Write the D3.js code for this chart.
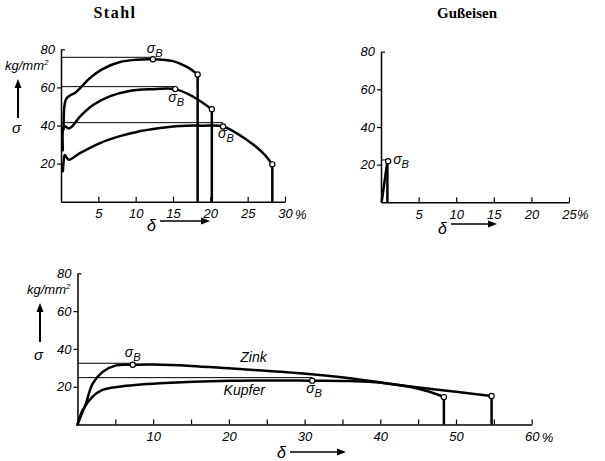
<!DOCTYPE html>
<html>
<head>
<meta charset="utf-8">
<script src="https://cdn.jsdelivr.net/npm/d3@7"></script>
<style>
  body { margin: 0; background: #fff; }
  text { font-family: "Liberation Sans", Arial, sans-serif; font-style: italic; fill: #000; }
  .title { font-family: "Liberation Serif", serif; font-style: normal; font-weight: bold; }
</style>
</head>
<body>
<svg width="605" height="461"></svg>
<script>
// --- Stahl (three steels), delta in %, sigma in kg/mm2
const stahlHard = [[0.35,38],[0.45,50],[0.7,54],[1.1,55.5],[1.9,57.2],[2.6,59.8],[3.9,65],[5.5,69.5],[7.9,73.3],[10,74.5],[12.3,74.8],[15,73.8],[16.8,70.9],[18.3,66.8]];
const stahlMid  = [[0.25,27],[0.35,39],[0.6,39.5],[1,38.4],[1.4,39.2],[2.6,44.9],[4.4,51],[6.6,55.4],[9,58],[12,59],[15.3,59.1],[17.7,55.1],[20.2,48.5]];
const stahlSoft = [[0.25,16],[0.35,21],[0.5,24.5],[0.7,23.5],[1.05,22],[2.6,25.6],[5.3,30.9],[7.9,34.4],[10,36.5],[13,38.5],[16,39.8],[19,39.9],[21.7,39.5],[24.9,32.4],[27.1,25.4],[28.3,19.6]];
const stahlBreak = [[12.3,74.8],[15.3,59.1],[21.7,39.5]];   // sigma_B points
const stahlLevels = [75.8, 60.4, 41.5];                     // thin horizontal lines

// --- Gusseisen
const guss = [[0.1,0.5],[0.85,21.8]];
const gussBreak = [0.95, 21.8];
const gussLevel = 22.5;

// --- Zink / Kupfer
const zink   = [[0,0],[0.4,4],[1.1,11],[2,21.6],[3.3,27.8],[5.1,31.3],[7.3,31.6],[10,31.7],[15,31],[20,29.7],[29.4,27.1],[36,24.5],[40.4,22],[44.8,19.7],[50,17.3],[54.7,15.1]];
const kupfer = [[0,0],[0.7,7.7],[2,14.7],[3.3,18.3],[5.5,20],[10.9,21.8],[20.1,23.2],[31,23.2],[36,23],[40,22.2],[44,19.8],[46.5,17.3],[48.4,14.5]];
const zinkBreak = [7.3, 31.6];
const kupferBreak = [31, 23.2];
const metalLevels = [32.4, 24.8];

const yTicks = [20, 40, 60, 80];

const svg = d3.select('svg');

function makePanel(xMax, xr, yr, xTicks, xLabels, pctDx) {
  const x = d3.scaleLinear().domain([0, xMax]).range(xr);
  const y = d3.scaleLinear().domain([0, 80]).range(yr);
  const g = svg.append('g');

  const ax = g.append('g')
    .attr('transform', `translate(0,${y(0)})`)
    .call(d3.axisBottom(x).tickValues(xTicks).tickSize(-5).tickSizeOuter(0).tickPadding(7)
      .tickFormat(d => xLabels.includes(d) ? d : ''));
  const ay = g.append('g')
    .attr('transform', `translate(${x(0)},0)`)
    .call(d3.axisLeft(y).tickValues(yTicks).tickSize(4).tickSizeOuter(0).tickPadding(2));
  ay.selectAll('.tick').filter(d => d === 80).select('line').attr('x2', 4);
  [ax, ay].forEach(a => {
    a.attr('font-family', null).attr('font-size', null);
    a.select('.domain').attr('stroke-width', 1.5);
    a.selectAll('line').attr('stroke-width', 1.2);
    a.selectAll('text').style('font-size', '13px');
  });
  g.append('text').attr('x', x(xMax) + pctDx).attr('y', y(0) + 17).style('font-size', '13px').text('%');
  return { x, y, g };
}

function curve(p, pts) {
  const line = d3.line().x(d => p.x(d[0])).y(d => p.y(d[1])).curve(d3.curveCatmullRom.alpha(0.5));
  p.g.append('path').attr('d', line(pts)).attr('fill', 'none').attr('stroke', '#000')
    .attr('stroke-width', 2.5).attr('stroke-linejoin', 'round').attr('stroke-linecap', 'round');
  const last = pts[pts.length - 1];
  p.g.append('line').attr('x1', p.x(last[0])).attr('x2', p.x(last[0]))
    .attr('y1', p.y(last[1])).attr('y2', p.y(0)).attr('stroke', '#000').attr('stroke-width', 2.5);
}

function level(p, v, xEnd) {
  p.g.append('line').attr('x1', p.x(0)).attr('x2', p.x(xEnd))
    .attr('y1', p.y(v)).attr('y2', p.y(v)).attr('stroke', '#000').attr('stroke-width', 1);
}

function dot(p, pt) {
  p.g.append('circle').attr('cx', p.x(pt[0])).attr('cy', p.y(pt[1])).attr('r', 2.6)
    .attr('fill', '#fff').attr('stroke', '#000').attr('stroke-width', 1.2);
}

function sigmaB(p, pt, dx, dy) {
  const t = p.g.append('text').attr('x', p.x(pt[0]) + dx).attr('y', p.y(pt[1]) + dy).style('font-size', '14px');
  t.append('tspan').text('σ');
  t.append('tspan').attr('dy', 4).style('font-size', '11px').text('B');
}

function yLabel(x0, yTop, ySigma) {
  const t = svg.append('text').attr('x', x0).attr('y', yTop).style('font-size', '13px');
  t.append('tspan').text('kg/mm');
  t.append('tspan').attr('dy', -5).style('font-size', '8px').text('2');
  const ax = x0 + 13;
  svg.append('line').attr('x1', ax).attr('x2', ax).attr('y1', yTop + 48).attr('y2', yTop + 14)
    .attr('stroke', '#000').attr('stroke-width', 2);
  svg.append('path').attr('d', `M${ax},${yTop + 9} L${ax - 3.5},${yTop + 18} L${ax + 3.5},${yTop + 18} Z`).attr('fill', '#000');
  svg.append('text').attr('x', ax - 6).attr('y', ySigma).style('font-size', '15px').text('σ');
}

function deltaLabel(x0, y0, arrowY, len) {
  svg.append('text').attr('x', x0).attr('y', y0).style('font-size', '16px').text('δ');
  svg.append('line').attr('x1', x0 + 13).attr('x2', x0 + 13 + len).attr('y1', arrowY).attr('y2', arrowY)
    .attr('stroke', '#000').attr('stroke-width', 1.5);
  svg.append('path').attr('d', `M${x0 + 19 + len},${arrowY} L${x0 + 10 + len},${arrowY - 3.5} L${x0 + 10 + len},${arrowY + 3.5} Z`).attr('fill', '#000');
}

// ---------- Stahl
const pS = makePanel(30, [61, 285], [201.7, 49.3], [5,10,15,20,25,30], [5,10,15,20,25,30], 10);
stahlLevels.forEach((v, i) => level(pS, v, stahlBreak[i][0]));
[stahlHard, stahlMid, stahlSoft].forEach(c => curve(pS, c));
[stahlHard, stahlMid, stahlSoft].forEach(c => dot(pS, c[c.length - 1]));
stahlBreak.forEach(b => dot(pS, b));
sigmaB(pS, stahlBreak[0], -6, -6);
sigmaB(pS, stahlBreak[1], -7, 13);
sigmaB(pS, stahlBreak[2], -5, 12);
svg.append('text').attr('class', 'title').attr('x', 115).attr('y', 18).attr('text-anchor', 'middle')
  .style('font-size', '16px').style('letter-spacing', '1.5px').text('Stahl');
yLabel(5, 70, 133);
deltaLabel(147, 231, 221, 44);

// ---------- Gusseisen
const pG = makePanel(25, [381, 569], [202.3, 51.7], [5,10,15,20,25], [5,10,15,20,25], 8);
level(pG, gussLevel, gussBreak[0]);
curve(pG, guss);
pG.g.append('line').attr('x1', pG.x(guss[1][0])).attr('x2', pG.x(gussBreak[0]))
  .attr('y1', pG.y(guss[1][1])).attr('y2', pG.y(gussBreak[1])).attr('stroke', '#000').attr('stroke-width', 2.5);
dot(pG, gussBreak);
sigmaB(pG, gussBreak, 5, 3);
svg.append('text').attr('class', 'title').attr('x', 467).attr('y', 18).attr('text-anchor', 'middle')
  .style('font-size', '15px').text('Gußeisen');
deltaLabel(438, 234, 224, 40);

// ---------- Zink / Kupfer
const pB = makePanel(60, [77.5, 531.7], [424.5, 273.3], d3.range(5, 61, 5), [10,20,30,40,50,60], 10);
level(pB, metalLevels[0], zinkBreak[0]);
level(pB, metalLevels[1], kupferBreak[0]);
curve(pB, zink);
curve(pB, kupfer);
dot(pB, zink[zink.length - 1]);
dot(pB, kupfer[kupfer.length - 1]);
dot(pB, zinkBreak);
dot(pB, kupferBreak);
sigmaB(pB, zinkBreak, -8, -8);
sigmaB(pB, kupferBreak, -6, 12);
svg.append('text').attr('x', pB.x(21.5)).attr('y', 362).style('font-size', '14px').text('Zink');
svg.append('text').attr('x', pB.x(19.3)).attr('y', 395).style('font-size', '14px').text('Kupfer');
yLabel(27, 294, 360);
deltaLabel(277, 458, 452, 50);
</script>
</body>
</html>
